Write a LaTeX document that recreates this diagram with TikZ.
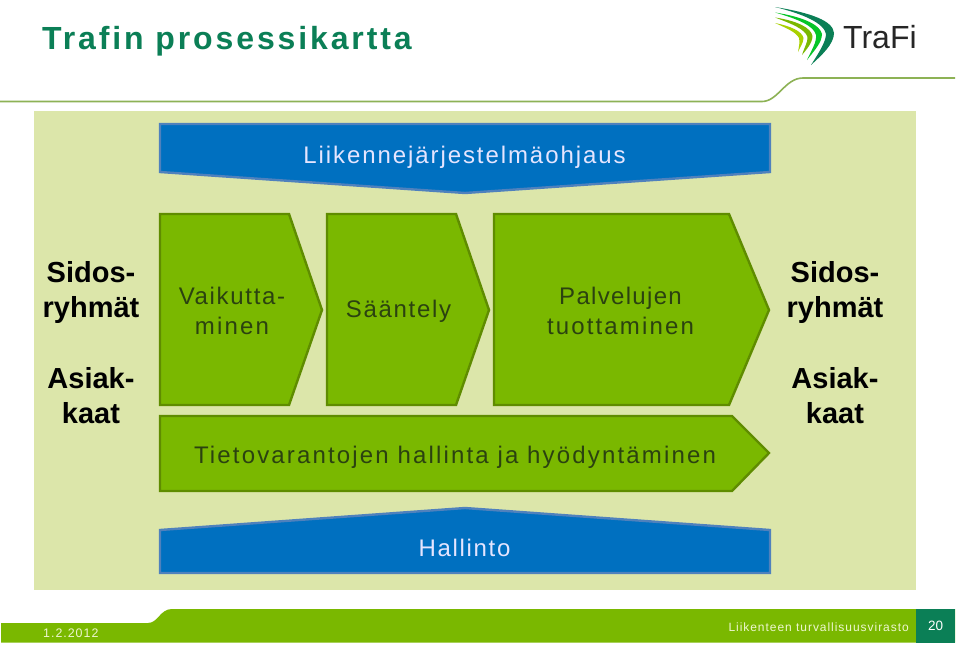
\documentclass[tikz,border=0pt]{standalone}
\usepackage{fontspec}
\setmainfont{Liberation Sans}
\newfontfamily\lsfont[LetterSpace=9]{Liberation Sans}
\newfontfamily\lstight[LetterSpace=7]{Liberation Sans}
\newfontfamily\lsmid[LetterSpace=8]{Liberation Sans}
\newfontfamily\lspal[LetterSpace=5.5]{Liberation Sans}
\definecolor{panelgreen}{HTML}{DCE6AA}
\definecolor{bluefill}{HTML}{0070C0}
\definecolor{blueline}{HTML}{4F81BD}
\definecolor{greenfill}{HTML}{7AB800}
\definecolor{greenline}{HTML}{5F8C00}
\definecolor{titleteal}{HTML}{0B7F56}
\definecolor{boxink}{HTML}{2B4210}
\definecolor{ruleg}{HTML}{8DB255}
\definecolor{footink}{HTML}{EEF6D0}
\tikzset{
 bluearrow/.style={fill=bluefill,draw=blueline,line width=2.4pt,line join=miter},
 greenarrow/.style={fill=greenfill,draw=greenline,line width=2.4pt,line join=miter},
 boxtext/.style={font=\fontsize{24}{30}\selectfont\lsfont,text=boxink,align=center,inner sep=0pt},
 sidetext/.style={font=\fontsize{29}{35}\selectfont\bfseries,text=black,align=center,inner sep=0pt},
 foottext/.style={font=\fontsize{12}{16}\selectfont\lsmid,inner sep=0pt}
}
\begin{document}
\begin{tikzpicture}[x=1pt,y=-1pt]
\useasboundingbox (0,0) rectangle (960,645);
\fill[white] (0,0) rectangle (960,645);
% header
\node[inner sep=0pt,anchor=west,text=titleteal,font=\fontsize{32}{36}\selectfont\bfseries\lsfont] (title) at (42,41) {Trafin prosessikartta};
\draw[ruleg,line width=1.6pt] (0,101.5) -- (762,101.5) .. controls (778,101.5) and (785,78) .. (803,78) -- (955,78);
% logo
\fill[titleteal] (775,7) .. controls (812,13) and (833,21) .. (834,33) .. controls (834,44) and (822,55) .. (811,65) .. controls (818,54) and (826,42) .. (826,34) .. controls (824,23) and (803,14) .. (775,7) -- cycle;
\fill[green!55!titleteal] (775,12.5) .. controls (804,17) and (820,25) .. (822,34) .. controls (822,43) and (813,52) .. (807,60) .. controls (811,51) and (817,42) .. (816,35) .. controls (814,26) and (798,19) .. (775,12.5) -- cycle;
\fill[greenfill] (775,17.5) .. controls (798,21) and (811,28) .. (812.5,36) .. controls (812.5,43) and (806,50) .. (802,55) .. controls (804,48) and (808,42) .. (807.5,37) .. controls (805,29) and (792,24) .. (775,17.5) -- cycle;
\fill[greenfill!65!yellow] (775,23) .. controls (790,26) and (802,31) .. (803.5,38) .. controls (803.5,43) and (800,47) .. (798,52) .. controls (799,46) and (800,42) .. (799,38) .. controls (796,32) and (786,28) .. (775,23) -- cycle;
\node[inner sep=0pt,anchor=west,text=black!85,font=\fontsize{32}{36}\selectfont] (logotext) at (843,37.5) {TraFi};
% panel
\fill[panelgreen] (34,111) rectangle (916,590);
% arrows
\draw[bluearrow] (160,124) -- (770,124) -- (770,172) -- (465,193) -- (160,172) -- cycle;
\node[boxtext,text=white!90!blue,font=\fontsize{24}{30}\selectfont\lsmid] (steer) at (464.5,157) {Liikennejärjestelmäohjaus};
\draw[greenarrow] (160,214) -- (289,214) -- (322,310) -- (289,405) -- (160,405) -- cycle;
\node[boxtext] (vaik) at (232,311) {{\lstight Vaikutta-}\\minen};
\draw[greenarrow] (327,214) -- (456,214) -- (489,310) -- (456,405) -- (327,405) -- cycle;
\node[boxtext,font=\fontsize{24}{30}\selectfont\lstight] (saant) at (398.5,311) {Sääntely};
\draw[greenarrow] (494,214) -- (729,214) -- (769,310) -- (729,405) -- (494,405) -- cycle;
\node[boxtext] (palv) at (620.5,311) {{\lspal Palvelujen}\\tuottaminen};
\draw[greenarrow] (160,416) -- (732,416) -- (769,453) -- (732,491) -- (160,491) -- cycle;
\node[boxtext] (tieto) at (455,457) {Tietovarantojen hallinta ja hyödyntäminen};
\draw[bluearrow] (160,530) -- (465,508) -- (770,530) -- (770,573) -- (160,573) -- cycle;
\node[boxtext,text=white!90!blue,font=\fontsize{24}{30}\selectfont\lstight] (hall) at (464.5,548) {Hallinto};
% side labels
\node[sidetext] (s1) at (91,292.5) {Sidos-\\ryhmät};
\node[sidetext] (a1) at (91,395.5) {Asiak-\\kaat};
\node[sidetext] (s2) at (835,292.5) {Sidos-\\ryhmät};
\node[sidetext] (a2) at (835,395.5) {Asiak-\\kaat};
% footer
\fill[greenfill] (1,623) -- (148,623) .. controls (158,623) and (160,609) .. (172,609) -- (955,609) -- (955,642.5) -- (1,642.5) -- cycle;
\fill[titleteal] (916,609) rectangle (955,642.5);
\node[foottext,text=footink,font=\fontsize{12.4}{16}\selectfont\lsmid,anchor=west] (date) at (43,633) {1.2.2012};
\node[foottext,text=footink,anchor=east] (org) at (909,627) {Liikenteen turvallisuusvirasto};
\node[foottext,text=white,font=\fontsize{13.5}{16}\selectfont] (page) at (935.5,626) {20};
\end{tikzpicture}
\end{document}
